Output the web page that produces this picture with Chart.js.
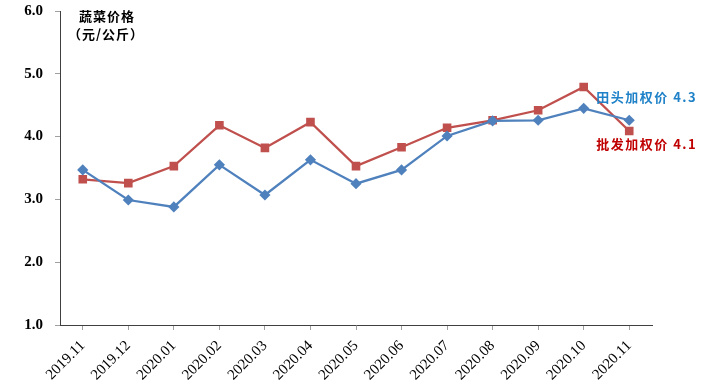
<!DOCTYPE html>
<html><head><meta charset="utf-8">
<script src="https://cdn.jsdelivr.net/npm/chart.js@4"></script>
<style>html,body{margin:0;padding:0;background:#fff}#wrap{width:707px;height:387px;position:relative}</style>
</head><body><div id="wrap"><canvas id="c"></canvas></div>
<script>
const categories = ["2019.11","2019.12","2020.01","2020.02","2020.03","2020.04","2020.05","2020.06","2020.07","2020.08","2020.09","2020.10","2020.11"];
const fieldPrice = [3.47,2.99,2.88,3.55,3.07,3.63,3.25,3.47,4.01,4.25,4.26,4.45,4.26];
const wholesalePrice = [3.32,3.26,3.53,4.18,3.82,4.23,3.53,3.83,4.14,4.26,4.42,4.79,4.09];
const yTicks = [1,2,3,4,5,6];
const fieldLabel = "田头加权价 4.3";
const wholesaleLabel = "批发加权价 4.1";
const unitTitle = ["蔬菜价格","（元/公斤）"];

const annot = {
  id:'annot',
  afterDraw(chart){
    const ctx = chart.ctx;
    ctx.save();
    ctx.fillStyle = '#000';
    ctx.font = 'bold 13px "Noto Sans CJK SC"';
    ctx.textBaseline = 'middle';
    ctx.textAlign = 'left';
    ctx.letterSpacing = '1px';
    ctx.fillText(unitTitle[0], 79, 16);
    ctx.fillText(unitTitle[1], 68, 34);
    const x = chart.scales.x, y = chart.scales.y;
    const last = categories.length - 1;
    ctx.letterSpacing = '1.5px';
    ctx.fillStyle = '#1F82C8';
    ctx.fillText(fieldLabel, x.getPixelForValue(last) - 33, y.getPixelForValue(fieldPrice[last]) - 23);
    ctx.fillStyle = '#C00000';
    ctx.fillText(wholesaleLabel, x.getPixelForValue(last) - 33, y.getPixelForValue(wholesalePrice[last]) + 13);
    ctx.restore();
  }
};

new Chart(document.getElementById('c'), {
  type:'line',
  data:{
    labels: categories,
    datasets:[
      {label:'田头', data: fieldPrice, borderColor:'#4F81BD', backgroundColor:'#4F81BD', borderWidth:2.25,
       pointStyle:'rectRot', pointRadius:4, pointHoverRadius:4, tension:0},
      {label:'批发', data: wholesalePrice, borderColor:'#C0504D', backgroundColor:'#C0504D', borderWidth:2.25,
       pointStyle:'rect', pointRadius:4.5, pointHoverRadius:4.5, tension:0}
    ]
  },
  options:{
    responsive:true, maintainAspectRatio:false, animation:false,
    layout:{padding:{left:0,right:55,top:11,bottom:0}},
    plugins:{legend:{display:false}, tooltip:{enabled:false}},
    scales:{
      x:{
        offset:true,
        grid:{display:true, drawOnChartArea:false, offset:false, tickLength:5, color:'#A0A0A0'},
        border:{color:'#404040', width:1},
        ticks:{maxRotation:45, minRotation:45, autoSkip:false, color:'#000', font:{family:'"Liberation Serif"', size:15}, padding:7},
        afterFit(s){ s.height = 62; s.paddingLeft = 0; s.paddingRight = 0; }
      },
      y:{
        min:1, max:6,
        afterBuildTicks(s){ s.ticks = yTicks.map(v=>({value:v})); },
        grid:{display:true, drawOnChartArea:false, tickLength:5, color:'#A0A0A0'},
        border:{color:'#404040', width:1},
        ticks:{color:'#000', font:{family:'"Liberation Serif"', size:15, weight:'bold'}, padding:12,
          callback:v=>Number(v).toFixed(1)},
        afterFit(s){ s.width = 60; s.paddingTop = 0; s.paddingBottom = 0; }
      }
    }
  },
  plugins:[annot]
});
</script></body></html>
